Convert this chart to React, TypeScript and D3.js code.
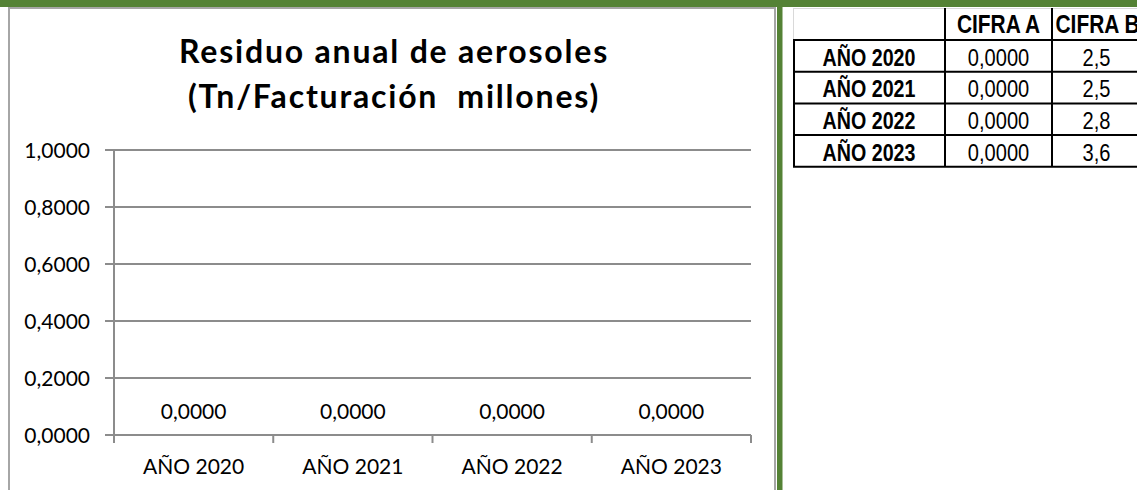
import React, { useEffect } from "react";
import * as d3 from "d3";

const categories = ["AÑO 2020", "AÑO 2021", "AÑO 2022", "AÑO 2023"];
const valuesA = [0, 0, 0, 0];
const valuesB = [2.5, 2.5, 2.8, 3.6];
const yTicks = [0, 0.2, 0.4, 0.6, 0.8, 1.0];
const titleLines = ["Residuo anual de aerosoles", "(Tn/Facturación  millones)"];
const tableHeaders = ["", "CIFRA A", "CIFRA B"];

const locale = d3.formatLocale({ decimal: ",", thousands: ".", grouping: [3], currency: ["", "€"] });
const f4 = locale.format(".4f");
const f1 = locale.format(".1f");

const W = 1137;
const H = 490;
const GREEN = "#548235";
const AXIS = "#8c8c8c";
const FONT = "Lato, 'Open Sans', sans-serif";
const ARIAL = "'Liberation Sans', Arial, sans-serif";
const NARROW_SCALE = 0.82;

function NarrowText({ x, y, bold, size, children }: { x: number; y: number; bold?: boolean; size: number; children: React.ReactNode }) {
  return (
    <g transform={`translate(${x},${y}) scale(${NARROW_SCALE},1)`}>
      <text x={0} y={0} textAnchor="middle" fontFamily={ARIAL} fontWeight={bold ? 700 : 400} fontSize={size} fill="#000">
        {children}
      </text>
    </g>
  );
}

export default function App() {
  useEffect(() => {
    document.body.style.margin = "0";
  }, []);

  const x = d3.scaleBand<string>().domain(categories).range([114, 751]).padding(0);
  const y = d3.scaleLinear().domain([0, 1]).range([435, 150]);

  // table geometry
  const colX = [793, 945, 1052, 1141];
  const rowY = d3.range(categories.length + 2).map((i) => (i === 0 ? 8 : 40 + (i - 1) * 31.7));

  return (
    <div style={{ position: "absolute", left: 0, top: 0 }}>
      <svg width={W} height={H} style={{ display: "block" }}>
        <rect x={0} y={0} width={W} height={H} fill="#fff" />
        {/* chart box */}
        <rect x={9} y={8} width={766} height={H} fill="#fff" stroke="#a6a6a6" strokeWidth={2} />
        {/* title */}
        {titleLines.map((t, i) => (
          <text key={i} x={394} y={63 + i * 45} textAnchor="middle" fontFamily={FONT} fontWeight={700} fontSize={32} letterSpacing={1.8} fill="#000" style={{ whiteSpace: "pre" }}>
            {t}
          </text>
        ))}
        {/* gridlines + y ticks */}
        {yTicks.map((t) => (
          <g key={t}>
            <line x1={105} x2={751} y1={y(t)} y2={y(t)} stroke={AXIS} strokeWidth={2} />
            <text x={90} y={y(t)} dy="0.36em" textAnchor="end" fontFamily={FONT} fontSize={21} fill="#000">
              {f4(t)}
            </text>
          </g>
        ))}
        {/* y axis */}
        <line x1={114} x2={114} y1={150} y2={443} stroke={AXIS} strokeWidth={2} />
        {/* x ticks */}
        {categories.map((c) => (
          <line key={c} x1={(x(c) as number) + x.bandwidth()} x2={(x(c) as number) + x.bandwidth()} y1={435} y2={443} stroke={AXIS} strokeWidth={2} />
        ))}
        {/* bars (zero height) and labels */}
        {categories.map((c, i) => {
          const cx = (x(c) as number) + x.bandwidth() / 2;
          return (
            <g key={c}>
              <rect x={cx - 40} y={y(valuesA[i])} width={80} height={y(0) - y(valuesA[i])} fill="#4f81bd" />
              <text x={cx} y={y(valuesA[i]) - 16.5} textAnchor="middle" fontFamily={FONT} fontSize={21} fill="#000">
                {f4(valuesA[i])}
              </text>
              <text x={cx} y={474} textAnchor="middle" fontFamily={FONT} fontSize={21} fill="#000">
                {c}
              </text>
            </g>
          );
        })}

        {/* table gridlines (light) */}
        <line x1={793} x2={W} y1={8.5} y2={8.5} stroke="#d9d9d9" strokeWidth={1} />
        <line x1={793.5} x2={793.5} y1={8} y2={40} stroke="#d9d9d9" strokeWidth={1} />
        {/* table black borders */}
        {rowY.slice(1).map((ry, i) => (
          <line key={"h" + i} x1={793} x2={colX[3]} y1={ry} y2={ry} stroke="#000" strokeWidth={2} />
        ))}
        <line x1={794} x2={794} y1={40} y2={rowY[rowY.length - 1]} stroke="#000" strokeWidth={2} />
        {colX.slice(1).map((cx, i) => (
          <line key={"v" + i} x1={cx} x2={cx} y1={8} y2={rowY[rowY.length - 1]} stroke="#000" strokeWidth={2} />
        ))}
        {/* table header */}
        {tableHeaders.map((h, i) =>
          h ? (
            <NarrowText key={h} x={(colX[i] + colX[i + 1]) / 2 + (i === 2 ? 1 : 0)} y={33} bold size={25.5}>
              {h}
            </NarrowText>
          ) : null
        )}
        {categories.map((c, i) => {
          const base = rowY[i + 1] + 25.5;
          return (
            <g key={"r" + c}>
              <NarrowText x={(colX[0] + colX[1]) / 2} y={base} bold size={24}>
                {c}
              </NarrowText>
              <NarrowText x={(colX[1] + colX[2]) / 2} y={base} size={24.5}>
                {f4(valuesA[i])}
              </NarrowText>
              <NarrowText x={(colX[2] + colX[3]) / 2} y={base} size={24.5}>
                {f1(valuesB[i])}
              </NarrowText>
            </g>
          );
        })}

        {/* green frame */}
        <rect x={0} y={0} width={W} height={7} fill={GREEN} />
        <rect x={777} y={0} width={5.5} height={H} fill={GREEN} />
      </svg>
    </div>
  );
}
